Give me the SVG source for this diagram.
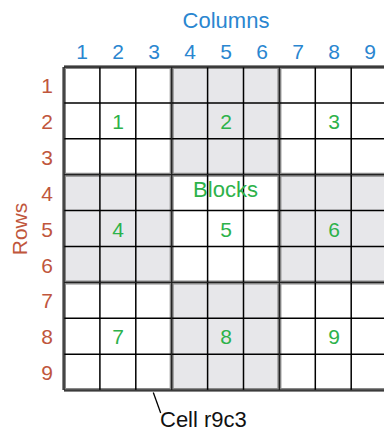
<svg xmlns="http://www.w3.org/2000/svg" width="384" height="432" viewBox="0 0 384 432">
<style>
text{font-family:"Liberation Sans",Arial,sans-serif}
.col{fill:#2a86d0;font-size:21px;text-anchor:middle}
.row{fill:#c0563c;font-size:21px;text-anchor:middle}
.blk{fill:#2db24a;font-size:21px;text-anchor:middle}
.shade{fill:#e7e7ea}
.thin{stroke:#000;stroke-width:1.5;fill:none}
.thick{stroke:#888;stroke-width:4;fill:none}
.thickc{stroke:#222;stroke-width:1.3;fill:none}
</style>
<rect width="384" height="432" fill="#fff"/>
<g id="shading">
<rect class="shade" x="171.7" y="67" width="107.7" height="107.7"/>
<rect class="shade" x="64" y="174.7" width="107.7" height="107.7"/>
<rect class="shade" x="279.4" y="174.7" width="107.7" height="107.7"/>
<rect class="shade" x="171.7" y="282.4" width="107.7" height="107.7"/>
</g>
<g id="grid">
<path class="thick" d="M64,67V390.1M171.7,67V390.1M279.4,67V390.1M64,67H390M64,174.7H390M64,282.4H390M64,390.1H390"/>
<path class="thin" d="M99.9,67V390.1M135.8,67V390.1M207.6,67V390.1M243.5,67V390.1M315.3,67V390.1M351.2,67V390.1M64,102.9H390M64,138.8H390M64,210.6H390M64,246.5H390M64,318.3H390M64,354.2H390"/>
<path class="thickc" d="M64,67V390.1M171.7,67V390.1M279.4,67V390.1M64,67H390M64,174.7H390M64,282.4H390M64,390.1H390"/>
</g>
<g id="columns-label"><text x="226" y="28" font-size="22" fill="#2a86d0" text-anchor="middle">Columns</text></g>
<g id="column-numbers">
<text class="col" x="82" y="59">1</text><text class="col" x="118" y="59">2</text><text class="col" x="154" y="59">3</text>
<text class="col" x="190" y="59">4</text><text class="col" x="226" y="59">5</text><text class="col" x="262" y="59">6</text>
<text class="col" x="298" y="59">7</text><text class="col" x="334" y="59">8</text><text class="col" x="370" y="59">9</text>
</g>
<g id="rows-label"><text transform="translate(27,229) rotate(-90)" font-size="21" fill="#c0563c" text-anchor="middle">Rows</text></g>
<g id="row-numbers">
<text class="row" x="47" y="93">1</text><text class="row" x="47" y="129">2</text><text class="row" x="47" y="165">3</text>
<text class="row" x="47" y="200.5">4</text><text class="row" x="47" y="236.5">5</text><text class="row" x="47" y="272.5">6</text>
<text class="row" x="47" y="308">7</text><text class="row" x="47" y="344">8</text><text class="row" x="47" y="380">9</text>
</g>
<g id="block-numbers">
<text class="blk" x="118" y="129">1</text><text class="blk" x="226" y="129">2</text><text class="blk" x="334" y="129">3</text>
<text class="blk" x="118" y="236.5">4</text><text class="blk" x="226" y="236.5">5</text><text class="blk" x="334" y="236.5">6</text>
<text class="blk" x="118" y="344">7</text><text class="blk" x="226" y="344">8</text><text class="blk" x="334" y="344">9</text>
</g>
<g id="blocks-label"><text x="225.5" y="197" font-size="22" fill="#2db24a" text-anchor="middle">Blocks</text></g>
<g id="connectors"><path d="M153.3,392.5L160.7,413" stroke="#000" stroke-width="1.3" fill="none"/></g>
<g id="cell-label"><text x="160" y="427" font-size="22" fill="#111">Cell r9c3</text></g>
</svg>
